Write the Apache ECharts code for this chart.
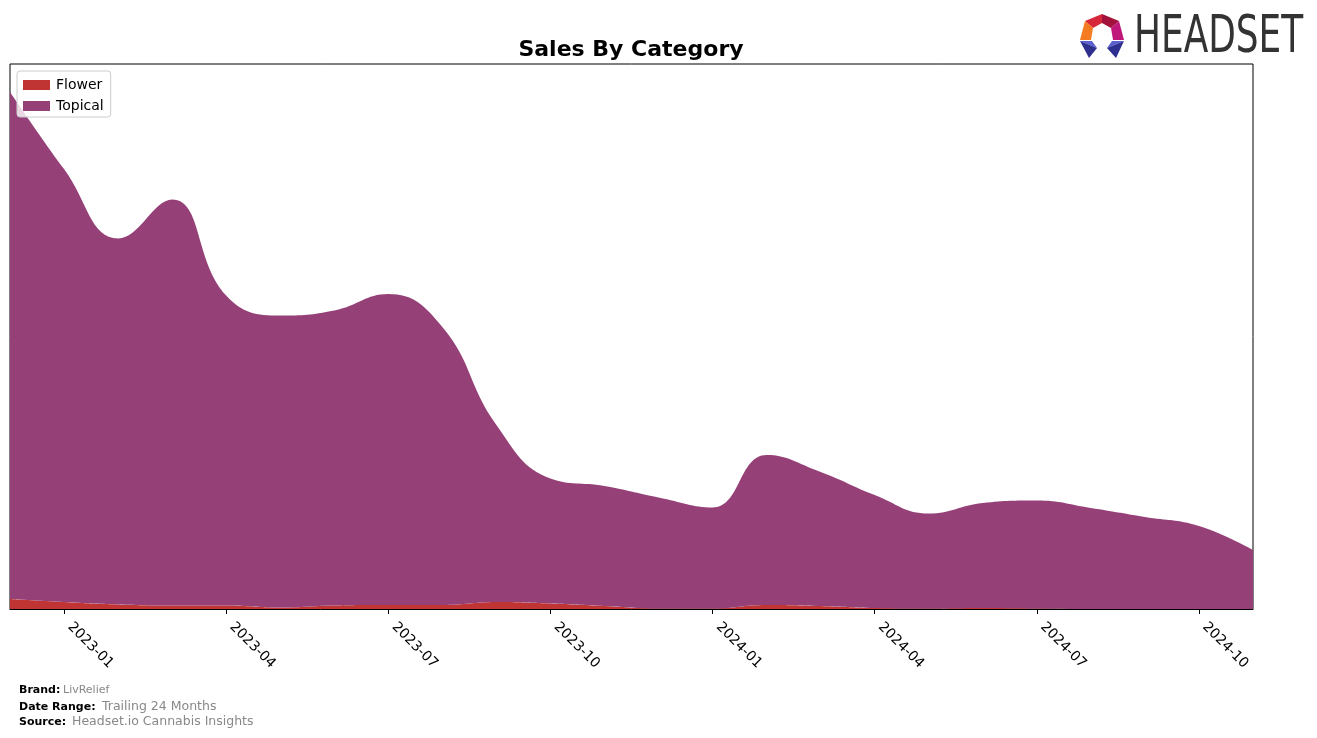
<!DOCTYPE html>
<html>
<head>
<meta charset="utf-8">
<script src="https://cdn.jsdelivr.net/npm/echarts@6/dist/echarts.min.js"></script>
<style>
html,body{margin:0;padding:0;background:#fff;}
#chart{width:1317px;height:738px;}
</style>
</head>
<body>
<div id="chart"></div>
<script>
const months = ['2022-12','2023-01','2023-02','2023-03','2023-04','2023-05','2023-06','2023-07','2023-08','2023-09','2023-10','2023-11','2023-12','2024-01','2024-02','2024-03','2024-04','2024-05','2024-06','2024-07','2024-08','2024-09','2024-10','2024-11'];
const flower = [10, 7, 4.5, 3.5, 3.5, 1.5, 3.5, 4, 4, 7, 5.5, 3, 0.5, 0.5, 4, 3, 1, 0.5, 1, 0.5, 0, 0, 0, 0];
const topical = [507, 433, 366, 406, 310, 292, 295, 311, 278, 177, 125, 120, 111, 101, 150, 134, 113, 95, 105, 108, 101, 92, 83, 59];
const seriesNames = ['Flower', 'Topical'];
const seriesColors = ['#c03434', '#964078'];
const tickMonths = ['01', '04', '07', '10'];

const chart = echarts.init(document.getElementById('chart'), null, {renderer: 'canvas'});
const isTick = (i) => tickMonths.includes(months[i].slice(5));

const option = {
  animation: false,
  backgroundColor: '#fff',
  grid: {left: 10, right: 64, top: 64, bottom: 129, show: true, borderColor: '#000', borderWidth: 1, backgroundColor: 'transparent'},
  legend: {
    show: true, orient: 'vertical', left: 17, top: 71,
    data: seriesNames.map((n, i) => ({name: n, icon: 'rect', itemStyle: {color: seriesColors[i]}})),
    itemWidth: 27, itemHeight: 10, itemGap: 5,
    padding: [6, 7, 3, 6],
    borderColor: '#cccccc', borderWidth: 1, borderRadius: 3,
    backgroundColor: 'rgba(255,255,255,0.8)',
    textStyle: {fontFamily: 'DejaVu Sans', fontSize: 14, color: '#000', lineHeight: 16, padding: [0, 0, 0, 1]}
  },
  xAxis: {
    type: 'category', data: months, boundaryGap: false,
    axisLine: {show: true, lineStyle: {color: '#000', width: 1}},
    axisTick: {show: true, interval: (i) => isTick(i), length: 5, lineStyle: {color: '#000'}},
    axisLabel: {show: true, interval: (i) => isTick(i), rotate: -45, margin: 10, padding: [0, 0, 0, 8], fontFamily: 'DejaVu Sans', fontSize: 14, color: '#000'},
    splitLine: {show: false}
  },
  yAxis: {type: 'value', min: 0, max: 545, show: false, splitLine: {show: false}},
  series: seriesNames.map((n, i) => ({
    name: n, type: 'line', stack: 'total', smooth: 0.45, showSymbol: false, symbol: 'none',
    data: [flower, topical][i],
    lineStyle: {width: 0, color: seriesColors[i]},
    itemStyle: {color: seriesColors[i]},
    areaStyle: {color: seriesColors[i], opacity: 1}
  })),
  graphic: [
    {type: 'text', x: 631, y: 50, style: {text: 'Sales By Category', font: 'bold 22px "DejaVu Sans"', fill: '#000', textAlign: 'center', textVerticalAlign: 'middle'}},
    {type: 'text', x: 19, y: 690, style: {text: 'Brand:', font: 'bold 11px "DejaVu Sans"', fill: '#000', textVerticalAlign: 'middle'}},
    {type: 'text', x: 63, y: 690, style: {text: 'LivRelief', font: '11px "DejaVu Sans"', fill: '#888', textVerticalAlign: 'middle'}},
    {type: 'text', x: 19, y: 707, style: {text: 'Date Range:', font: 'bold 11px "DejaVu Sans"', fill: '#000', textVerticalAlign: 'middle'}},
    {type: 'text', x: 102, y: 707, style: {text: 'Trailing 24 Months', font: '12.5px "DejaVu Sans"', fill: '#888', textVerticalAlign: 'middle'}},
    {type: 'text', x: 19, y: 722, style: {text: 'Source:', font: 'bold 11px "DejaVu Sans"', fill: '#000', textVerticalAlign: 'middle'}},
    {type: 'text', x: 72, y: 722, style: {text: 'Headset.io Cannabis Insights', font: '12.5px "DejaVu Sans"', fill: '#888', textVerticalAlign: 'middle'}},
    // logo
    {type: 'polygon', shape: {points: [[1102,14],[1085,21],[1093,28],[1102,23]]}, style: {fill: '#d62839'}},
    {type: 'polygon', shape: {points: [[1102,14],[1119,21],[1111,28],[1102,23]]}, style: {fill: '#a3123a'}},
    {type: 'polygon', shape: {points: [[1085,21],[1080,40],[1091,40],[1093,28]]}, style: {fill: '#f47b20'}},
    {type: 'polygon', shape: {points: [[1119,21],[1124,40],[1113,40],[1111,28]]}, style: {fill: '#c0187a'}},
    {type: 'polygon', shape: {points: [[1080,41],[1092,41],[1097,48]]}, style: {fill: '#5b5fd0'}},
    {type: 'polygon', shape: {points: [[1080,41],[1097,48],[1089,58]]}, style: {fill: '#2e2f8f'}},
    {type: 'polygon', shape: {points: [[1124,41],[1112,41],[1107,48]]}, style: {fill: '#5b5fd0'}},
    {type: 'polygon', shape: {points: [[1124,41],[1107,48],[1116,58]]}, style: {fill: '#2e2f8f'}},
    {type: 'text', x: 1134, y: 38, scaleX: 0.69, style: {text: 'HEADSET', font: '52px "DejaVu Sans"', fill: '#333333', textVerticalAlign: 'middle'}}
  ]
};
chart.setOption(option);
</script>
</body>
</html>
